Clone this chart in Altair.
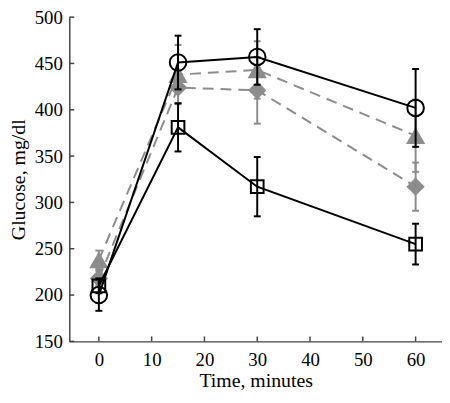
import altair as alt
import pandas as pd

times = [0, 15, 30, 60]

circle_mean = [200, 451, 457, 402]
circle_err = [17, 29, 30, 42]
square_mean = [210, 381, 317, 255]
square_err = [8, 26, 32, 22]
triangle_mean = [238, 438, 443, 372]
triangle_err = [10, 32, 31, 39]
diamond_mean = [218, 424, 421, 317]
diamond_err = [8, 17, 36, 26]

x_ticks = [0, 10, 20, 30, 40, 50, 60]
y_ticks = [150, 200, 250, 300, 350, 400, 450, 500]

W, H = 377, 328
BLACK = "#000000"
GRAY = "#8c8c8c"
AXC = "#444444"
FONT = "Liberation Serif"

xscale = alt.Scale(domain=[-5.6, 65], nice=False, zero=False)
yscale = alt.Scale(domain=[150, 500], nice=False, zero=False)
xaxis = alt.Axis(values=x_ticks, title="Time, minutes", ticks=False, grid=False,
                 labelPadding=9, titlePadding=2)
yaxis = alt.Axis(values=y_ticks, title="Glucose, mg/dl", ticks=False, grid=False,
                 labelPadding=7, titlePadding=6)


def series(mean, err, color, shape, filled, dash, size):
    df = pd.DataFrame({
        "t": times,
        "m": mean,
        "lo": [m - e for m, e in zip(mean, err)],
        "hi": [m + e for m, e in zip(mean, err)],
    })
    base = alt.Chart(df)
    X = alt.X("t:Q", scale=xscale, axis=xaxis)
    line_kw = dict(color=color, strokeWidth=2)
    if dash:
        line_kw["strokeDash"] = dash
    line = base.mark_line(**line_kw).encode(x=X, y=alt.Y("m:Q", scale=yscale, axis=yaxis))
    rule = base.mark_rule(color=color, strokeWidth=2).encode(
        x=X, y=alt.Y("lo:Q", scale=yscale, axis=yaxis), y2="hi:Q")
    cap_lo = base.mark_tick(orient="horizontal", color=color, size=7, thickness=2, opacity=1).encode(
        x=X, y=alt.Y("lo:Q", scale=yscale, axis=yaxis))
    cap_hi = base.mark_tick(orient="horizontal", color=color, size=7, thickness=2, opacity=1).encode(
        x=X, y=alt.Y("hi:Q", scale=yscale, axis=yaxis))
    if filled:
        pt = base.mark_point(shape=shape, filled=True, color=color, size=size, opacity=1)
    else:
        pt = base.mark_point(shape=shape, filled=False, color=color, size=size,
                             strokeWidth=2, opacity=1)
    pt = pt.encode(x=X, y=alt.Y("m:Q", scale=yscale, axis=yaxis))
    return [rule, cap_lo, cap_hi, line, pt]


xt = pd.DataFrame({"v": x_ticks})
yt = pd.DataFrame({"v": y_ticks})
xtick_layer = alt.Chart(xt).mark_rule(color=AXC, strokeWidth=1.5).encode(
    x=alt.X("v:Q", scale=xscale, axis=xaxis), y=alt.value(H), y2=alt.value(H - 5))
ytick_layer = alt.Chart(yt).mark_rule(color=AXC, strokeWidth=1.5).encode(
    y=alt.Y("v:Q", scale=yscale, axis=yaxis), x=alt.value(0), x2=alt.value(5))

layers = []
layers += series(triangle_mean, triangle_err, GRAY, "triangle-up", True, [11, 7], 380)
layers += series(diamond_mean, diamond_err, GRAY, "diamond", True, [11, 7], 340)
layers += series(circle_mean, circle_err, BLACK, "circle", False, None, 280)
layers += series(square_mean, square_err, BLACK, "square", False, None, 165)
layers += [xtick_layer, ytick_layer]

chart = alt.layer(*layers).properties(
    width=W, height=H,
    autosize=alt.AutoSizeParams(type="none"),
    padding={"left": 62, "top": 7, "right": 0, "bottom": 52},
).configure_view(stroke=None).configure_axis(
    domainColor=AXC, domainWidth=1.5, labelFont=FONT, titleFont=FONT,
    labelFontSize=19, titleFontSize=20, labelColor="#000000", titleColor="#000000",
    titleFontWeight="normal",
)

chart.save("out.html", embed_options={"renderer": "svg", "actions": False})
